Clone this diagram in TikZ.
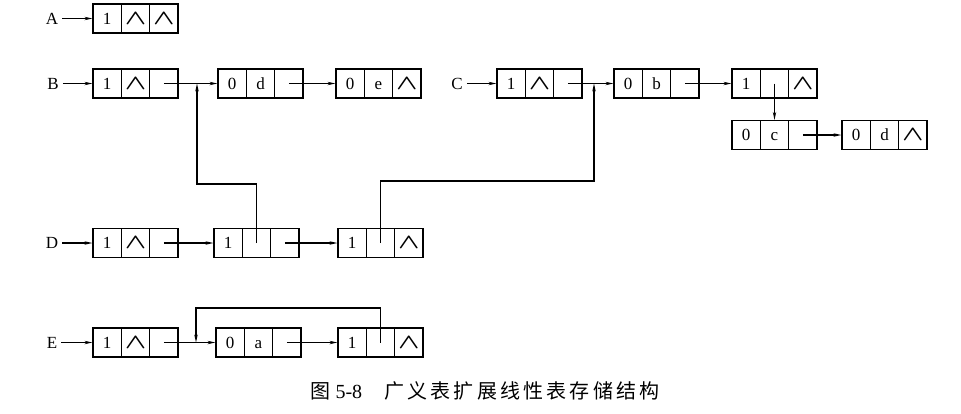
\documentclass[tikz,border=0pt]{standalone}
\usepackage{fontspec}
\setmainfont{Liberation Serif}
\newfontfamily\cjk[LetterSpace=16]{Noto Sans CJK SC}
\usetikzlibrary{arrows.meta}
\tikzset{
 cell/.style={draw, line width=1.1pt, minimum width=28.33pt, minimum height=29pt, inner sep=0pt, text height=11.5pt, text depth=0pt, font=\fontsize{17}{17}\selectfont},
 lbl/.style={font=\fontsize{17}{17}\selectfont, inner sep=1pt},
 ptr/.style={line width=1.1pt, -{Stealth[length=8pt,width=3.4pt]}},
}
\newcommand{\nil}{{\fontsize{21}{21}\selectfont\boldmath\scalebox{1.35}[1]{$\wedge$}}}
\newcommand{\gbox}[6]{%
 \node[cell] (#1a) at (#2+14.17,#3) {#4};
 \node[cell] (#1b) at (#2+42.5,#3) {#5};
 \node[cell] (#1c) at (#2+70.83,#3) {#6};
}
\begin{document}
\begin{tikzpicture}[x=1pt,y=-1pt]
\useasboundingbox (0,0) rectangle (961,413);
% A
\node[lbl] (lA) at (52,18.5) {A};
\gbox{A1}{93}{18.5}{1}{\nil}{\nil}
\draw[ptr] ([xshift=3pt]lA.east) -- (A1a.west);
% B
\node[lbl] (lB) at (53,83.5) {B};
\gbox{B1}{93}{83.5}{1}{\nil}{}
\gbox{B2}{218}{83.5}{0}{d}{}
\gbox{B3}{336}{83.5}{0}{e}{\nil}
\draw[ptr] ([xshift=3pt]lB.east) -- (B1a.west);
\draw[ptr] (B1c.center) -- (B2a.west);
\draw[ptr] (B2c.center) -- (B3a.west);
% C
\node[lbl] (lC) at (457,83.5) {C};
\gbox{C1}{497}{83.5}{1}{\nil}{}
\gbox{C2}{614}{83.5}{0}{b}{}
\gbox{C3}{732}{83.5}{1}{}{\nil}
\gbox{S1}{732}{135}{0}{c}{}
\gbox{S2}{842}{135}{0}{d}{\nil}
\draw[ptr] ([xshift=3pt]lC.east) -- (C1a.west);
\draw[ptr] (C1c.center) -- (C2a.west);
\draw[ptr] (C2c.center) -- (C3a.west);
\draw[ptr] (C3b.center) -- (S1b.north);
\draw[ptr] (S1c.center) -- (S2a.west);
% D
\node[lbl] (lD) at (52,243) {D};
\gbox{D1}{93}{243}{1}{\nil}{}
\gbox{D2}{214}{243}{1}{}{}
\gbox{D3}{338}{243}{1}{}{\nil}
\draw[ptr] ([xshift=3pt]lD.east) -- (D1a.west);
\draw[ptr] (D1c.center) -- (D2a.west);
\draw[ptr] (D2c.center) -- (D3a.west);
% E
\node[lbl] (lE) at (52,342.5) {E};
\gbox{E1}{93}{342.5}{1}{\nil}{}
\gbox{E2}{216}{342.5}{0}{a}{}
\gbox{E3}{338}{342.5}{1}{}{\nil}
\draw[ptr] ([xshift=3pt]lE.east) -- (E1a.west);
\draw[ptr] (E1c.center) -- (E2a.west);
\draw[ptr] (E2c.center) -- (E3a.west);
% sublist links
\coordinate (kB) at (197,184);
\coordinate (jB) at (197,83.5);
\draw[ptr] (D2b.center) |- (kB) -- (jB);
\coordinate (kC) at (594,181);
\coordinate (jC) at (594,83.5);
\draw[ptr] (D3b.center) |- (kC) -- (jC);
\coordinate (kE) at (196,308);
\coordinate (jE) at (196,342.5);
\draw[ptr] (E3b.center) |- (kE) -- (jE);
% caption
\node[font=\fontsize{20}{20}\selectfont, inner sep=0pt] (cap) at (485,391) {{\cjk 图}~5-8\hspace{22pt}{\cjk 广义表扩展线性表存储结构}};
\end{tikzpicture}
\end{document}
